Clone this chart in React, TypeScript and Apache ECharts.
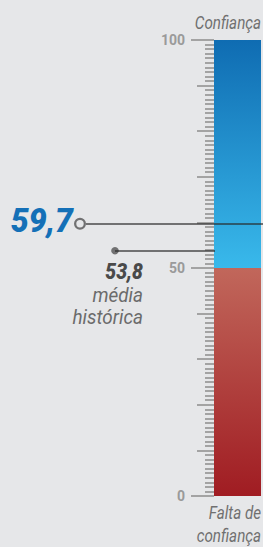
import React, { useEffect, useRef } from 'react';
import * as echarts from 'echarts';

// ---- data ----
const categories = ['Índice'];
const bandLow = [50]; // 0–50: falta de confiança
const bandHigh = [50]; // 50–100: confiança
const currentValue = [59.7];
const historicalMean = [53.8];
const axisTickLabels = [0, 50, 100];
const topText = ['Confiança'];
const bottomText = ['Falta de', 'confiança'];
const meanText = ['média', 'histórica'];

const W = 263;
const H = 547;
const BG = '#e6e7e9';
const fmt = (v: number) => v.toFixed(1).replace('.', ',');
const RING =
  'path://M0,-11A11,11 0 1,1 0,11A11,11 0 1,1 0,-11Z M0,-6.8A6.8,6.8 0 1,0 0,6.8A6.8,6.8 0 1,0 0,-6.8Z';

function txt(
  text: string,
  x: number,
  y: number,
  size: number,
  color: string,
  weight: string | number,
  scaleX: number
) {
  return {
    type: 'text',
    x,
    y,
    scaleX,
    silent: true,
    z: 10,
    style: {
      text,
      fill: color,
      fontSize: size,
      fontStyle: 'italic',
      fontWeight: weight,
      fontFamily: 'Roboto',
      textAlign: 'right',
      textVerticalAlign: 'middle',
      align: 'right',
      verticalAlign: 'middle',
    },
  };
}

export default function App() {
  const ref = useRef<HTMLDivElement>(null);
  useEffect(() => {
    document.body.style.margin = '0';
    document.body.style.background = BG;
    const chart = echarts.init(ref.current!, null, { renderer: 'svg' });
    const tickColor = '#a3a3a3';
    chart.setOption({
      animation: false,
      backgroundColor: BG,
      grid: { left: 214, right: 2, top: 40, bottom: 51 },
      xAxis: { type: 'category', data: categories, show: false },
      yAxis: [
        {
          type: 'value',
          position: 'left',
          min: 0,
          max: 100,
          interval: 10,
          axisLine: { show: false },
          splitLine: { show: false },
          axisLabel: { show: false },
          axisTick: { show: true, length: 17, lineStyle: { color: tickColor, width: 2 } },
          minorTick: { show: true, splitNumber: 10, length: 9, lineStyle: { color: tickColor, width: 2 } },
          minorSplitLine: { show: false },
        },
        {
          type: 'value',
          position: 'left',
          min: 0,
          max: 100,
          interval: 50,
          axisLine: { show: false },
          splitLine: { show: false },
          axisTick: { show: true, length: 23, lineStyle: { color: tickColor, width: 2 } },
          axisLabel: {
            margin: 29,
            color: '#9a9a9a',
            fontWeight: 'bold',
            fontSize: 14,
            fontFamily: 'Roboto',
            formatter: (v: number) => (axisTickLabels.includes(v) ? String(v) : ''),
          },
        },
      ],
      series: [
        {
          type: 'bar',
          stack: 's',
          data: bandLow,
          barWidth: '100%',
          silent: true,
          itemStyle: {
            color: new echarts.graphic.LinearGradient(0, 0, 0, 1, [
              { offset: 0, color: '#c1675b' },
              { offset: 1, color: '#a01c22' },
            ]),
          },
        },
        {
          type: 'bar',
          stack: 's',
          data: bandHigh,
          barWidth: '100%',
          silent: true,
          itemStyle: {
            color: new echarts.graphic.LinearGradient(0, 0, 0, 1, [
              { offset: 0, color: '#0f6cb2' },
              { offset: 1, color: '#39b9eb' },
            ]),
          },
        },
        {
          type: 'line',
          data: [],
          z: 5,
          markLine: {
            silent: true,
            animation: false,
            symbol: ['none', 'none'],
            label: { show: false },
            lineStyle: { type: 'solid', width: 2, color: 'rgba(40,40,40,0.62)' },
            data: [
              [
                {
                  x: 86,
                  yAxis: currentValue[0],
                  symbol: RING,
                  symbolSize: 12,
                  symbolRotate: 0,
                  symbolOffset: [-6, 0],
                },
                { x: W, yAxis: currentValue[0] },
              ],
              [
                { x: 115, yAxis: historicalMean[0], symbol: 'circle', symbolSize: 7.5 },
                { x: 215, yAxis: historicalMean[0] },
              ],
            ],
          },
        },
      ],
    });
    const yCur = chart.convertToPixel({ yAxisIndex: 0 }, currentValue[0]) as number;
    const yMean = chart.convertToPixel({ yAxisIndex: 0 }, historicalMean[0]) as number;
    chart.setOption({
      graphic: [
        txt(fmt(currentValue[0]), 73, yCur - 3, 33, '#1470b7', 900, 0.97),
        txt(fmt(historicalMean[0]), 143, yMean + 20.5, 22, '#4a4a4a', 900, 0.88),
        txt(meanText[0], 143, yMean + 43.8, 21, '#6b6b6b', 'normal', 0.9),
        txt(meanText[1], 143, yMean + 65.8, 21, '#6b6b6b', 'normal', 0.9),
        txt(topText[0], 261, 22, 19, '#707070', 'normal', 0.8),
        txt(bottomText[0], 261, 512, 19, '#707070', 'normal', 0.8),
        txt(bottomText[1], 261, 535, 19, '#707070', 'normal', 0.8),
      ],
    });
    return () => chart.dispose();
  }, []);
  return <div ref={ref} style={{ width: W, height: H }} />;
}
